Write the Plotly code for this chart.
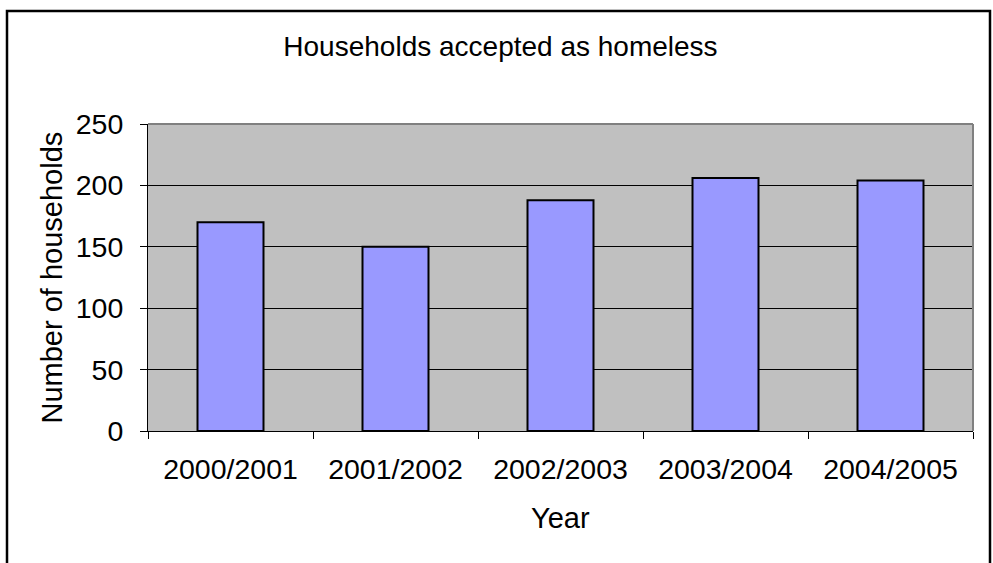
import plotly.graph_objects as go

years = ["2000/2001", "2001/2002", "2002/2003", "2003/2004", "2004/2005"]
households = [170, 150, 188, 206, 204]
y_ticks = [0, 50, 100, 150, 200, 250]

FONT = "Arial, Liberation Sans, sans-serif"

fig = go.Figure(
    go.Bar(
        x=years,
        y=households,
        marker=dict(color="#9999FF", line=dict(color="black", width=2)),
    )
)

fig.update_layout(
    width=993,
    height=563,
    margin=dict(l=148, r=20, t=124, b=132),
    paper_bgcolor="white",
    plot_bgcolor="#C0C0C0",
    bargap=0.6,
    showlegend=False,
    font=dict(family=FONT, color="black", size=28),
    title=dict(
        text="Households accepted as homeless",
        x=0.504, xref="container", xanchor="center",
        y=1 - 46 / 563, yref="container", yanchor="middle",
        font=dict(family=FONT, size=28, color="black"),
    ),
)

fig.update_xaxes(
    type="category",
    tickson="boundaries",
    ticks="outside",
    ticklen=7,
    tickcolor="black",
    showline=True,
    linecolor="black",
    linewidth=1,
    showgrid=False,
    ticklabelstandoff=13,
    tickfont=dict(family=FONT, size=28.5, color="black"),
)

fig.update_yaxes(
    range=[0, 250],
    tickvals=y_ticks,
    ticks="outside",
    ticklen=7,
    tickcolor="black",
    showline=True,
    linecolor="black",
    linewidth=1,
    showgrid=True,
    gridcolor="black",
    gridwidth=1,
    zeroline=False,
    ticklabelstandoff=11,
    tickfont=dict(family=FONT, size=28.5, color="black"),
)

# gray plot-area border (top/right)
fig.add_shape(type="line", xref="paper", yref="paper", x0=0, x1=1, y0=1, y1=1,
              line=dict(color="#808080", width=2), layer="above")
fig.add_shape(type="line", xref="paper", yref="paper", x0=1, x1=1, y0=0, y1=1,
              line=dict(color="#808080", width=2), layer="above")

# outer chart border
fig.add_shape(type="rect", xref="paper", yref="paper",
              x0=(7 - 148) / 825, x1=(990 - 148) / 825,
              y0=(431 - 575) / 307, y1=1 + (124 - 11) / 307,
              line=dict(color="black", width=2.5), fillcolor="rgba(0,0,0,0)")

# axis titles
fig.add_annotation(text="Year", xref="paper", yref="paper",
                   x=0.5, y=(431 - 517.5) / 307, xanchor="center", yanchor="middle",
                   showarrow=False, font=dict(family=FONT, size=29, color="black"))
fig.add_annotation(text="Number of households", xref="paper", yref="paper",
                   x=(51 - 148) / 825, y=0.5, xanchor="center", yanchor="middle",
                   textangle=-90, showarrow=False,
                   font=dict(family=FONT, size=29, color="black"))

fig.write_html(
    "out.html",
    config={"displayModeBar": False},
    post_script="document.body.style.margin='0px';document.body.style.overflow='hidden';",
)
